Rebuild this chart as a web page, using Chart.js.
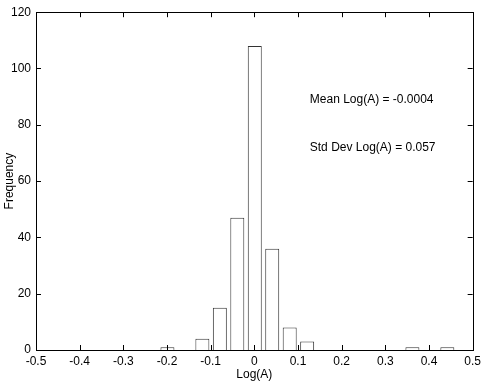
<!DOCTYPE html>
<html>
<head>
<meta charset="utf-8">
<script src="https://cdn.jsdelivr.net/npm/chart.js@4"></script>
<style>
  html, body { margin: 0; padding: 0; background: #fff; }
  #wrap { width: 485px; height: 383px; }
</style>
</head>
<body>
<div id="wrap"><canvas id="hist"></canvas></div>
<script>
// histogram of Log(A): bin centres and counts
const binCenters = [-0.199, -0.119, -0.079, -0.039, 0.001, 0.041, 0.081, 0.121, 0.362, 0.442];
const counts = [1, 4, 15, 47, 108, 36, 8, 3, 1, 1];

const xTicks = [-0.5, -0.4, -0.3, -0.2, -0.1, 0, 0.1, 0.2, 0.3, 0.4, 0.5];
const yTicks = [0, 20, 40, 60, 80, 100, 120];

// text notes placed in data coordinates
const notes = ['Mean Log(A) = -0.0004', 'Std Dev Log(A) = 0.057'];
const noteX = [0.127, 0.127];
const noteY = [89, 72];

Chart.defaults.font.family = '"Liberation Sans", Arial, Helvetica, sans-serif';
Chart.defaults.font.size = 12;
Chart.defaults.color = '#000';

// box round the plot, inward ticks on all four sides, and the text notes
const boxPlugin = {
    id: 'box',
    afterDatasetsDraw(chart) {
        const ctx = chart.ctx;
        const a = chart.chartArea;
        const xs = chart.scales.x;
        const ys = chart.scales.y;
        const len = 5;
        ctx.save();
        ctx.strokeStyle = '#000';
        ctx.lineWidth = 1;
        ctx.beginPath();
        xTicks.forEach(v => {
            const px = Math.round(xs.getPixelForValue(v)) + 0.5;
            ctx.moveTo(px, a.bottom); ctx.lineTo(px, a.bottom - len);
            ctx.moveTo(px, a.top); ctx.lineTo(px, a.top + len);
        });
        yTicks.forEach(v => {
            const py = Math.round(ys.getPixelForValue(v)) + 0.5;
            ctx.moveTo(a.left, py); ctx.lineTo(a.left + len, py);
            ctx.moveTo(a.right, py); ctx.lineTo(a.right - len, py);
        });
        ctx.stroke();
        ctx.strokeRect(Math.round(a.left) + 0.5, Math.round(a.top) + 0.5,
            Math.round(a.right - a.left), Math.round(a.bottom - a.top));

        ctx.fillStyle = '#000';
        ctx.font = '12px "Liberation Sans", Arial, sans-serif';
        ctx.textAlign = 'left';
        ctx.textBaseline = 'middle';
        notes.forEach((t, i) => {
            ctx.fillText(t, xs.getPixelForValue(noteX[i]), ys.getPixelForValue(noteY[i]));
        });
        ctx.restore();
    }
};

const ctx = document.getElementById('hist').getContext('2d');
const chart = new Chart(ctx, {
    type: 'bar',
    data: {
        datasets: [{
            data: binCenters.map((x, i) => ({ x: x, y: counts[i] })),
            backgroundColor: '#ffffff',
            borderColor: '#333333',
            borderWidth: 1,
            barPercentage: 0.8,
            categoryPercentage: 1
        }]
    },
    options: {
        responsive: true,
        maintainAspectRatio: false,
        animation: false,
        layout: { padding: { top: 4, right: 9, left: 0, bottom: 0 } },
        plugins: {
            legend: { display: false },
            tooltip: { enabled: false }
        },
        scales: {
            x: {
                type: 'linear',
                min: -0.5,
                max: 0.5,
                offset: false,
                grid: { display: false, drawTicks: false },
                border: { display: false },
                afterBuildTicks: s => { s.ticks = xTicks.map(v => ({ value: v })); },
                afterFit: s => { s.height = 33; },
                ticks: {
                    padding: 4,
                    maxRotation: 0,
                    autoSkip: false,
                    callback: v => Math.abs(v) < 1e-9 ? '0' : v.toFixed(1)
                },
                title: { display: true, text: 'Log(A)', padding: { top: 0, bottom: 1 } }
            },
            y: {
                min: 0,
                max: 120,
                grid: { display: false, drawTicks: false },
                border: { display: false },
                afterBuildTicks: s => { s.ticks = yTicks.map(v => ({ value: v })); },
                afterFit: s => { s.width = 36; },
                ticks: { padding: 5 },
                title: { display: true, text: 'Frequency', padding: { top: 2, bottom: 0 } }
            }
        }
    },
    plugins: [boxPlugin]
});
</script>
</body>
</html>
